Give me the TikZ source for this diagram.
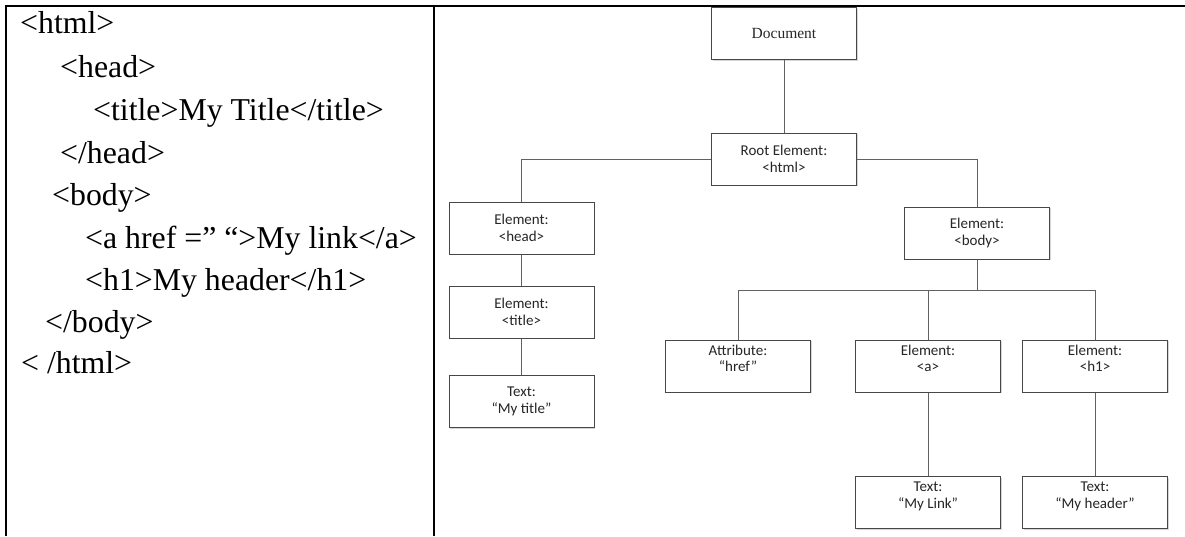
\documentclass[tikz,border=0pt]{standalone}
\usepackage{fontspec}
\setmainfont{Liberation Serif}
\newfontfamily\treefont{Carlito}
\usetikzlibrary{shadows}

\begin{document}
\begin{tikzpicture}[x=1pt,y=-1pt,
  frame/.style={line width=2.4pt,black},
  code/.style={anchor=base west,inner sep=0pt,font=\fontsize{31.8}{36}\selectfont},
  tbox/.style={draw=black!72,line width=1pt,fill=white,
    minimum width=145pt,minimum height=52pt,inner sep=0pt,align=center,
    font=\treefont\fontsize{15}{16.5}\selectfont,text=black!85,
    drop shadow={shadow xshift=1.4pt,shadow yshift=-1.4pt,fill=black!16,opacity=1}},
  lifted/.style={text depth=15pt},
  conn/.style={draw=black!62,line width=1pt}]
\useasboundingbox (0,0) rectangle (1185,536);

% page frame: top rule, left rule and column divider
\draw[frame] (4.8,6) -- (1185,6);
\draw[frame] (6,4.8) -- (6,536);
\draw[frame] (434,4.8) -- (434,536);

% HTML source in the left column
\node[code] (l1) at (20,33)  {<html>};
\node[code] (l2) at (60,77)  {<head>};
\node[code] (l3) at (93,120) {<title>My Title</title>};
\node[code] (l4) at (60,163) {</head>};
\node[code] (l5) at (52,205) {<body>};
\node[code] (l6) at (85,248) {<a href =” “>My link</a>};
\node[code] (l7) at (85,290) {<h1>My header</h1>};
\node[code] (l8) at (45,332) {</body>};
\node[code] (l9) at (21,373) {< /html>};

% DOM tree
\node[tbox,font=\fontsize{15.5}{17}\selectfont] (doc) at (784,33.5) {Document};
\node[tbox] (root)   at (784,159)   {Root Element:\\<html>};
\node[tbox] (head)   at (521.5,228) {Element:\\<head>};
\node[tbox] (title)  at (521.5,312) {Element:\\<title>};
\node[tbox] (ttitle) at (521.5,401.5) {Text:\\“My title”};
\node[tbox] (body)   at (977,233)   {Element:\\<body>};
\node[tbox,lifted] (attr)  at (738,366)   {Attribute:\\“href”};
\node[tbox,lifted] (ela)   at (928,366)   {Element:\\<a>};
\node[tbox,lifted] (elh)   at (1095,366)  {Element:\\<h1>};
\node[tbox,lifted] (tlink) at (928,502.5) {Text:\\“My Link”};
\node[tbox,lifted] (thead) at (1095,502.5) {Text:\\“My header”};
\coordinate (bus) at (977,290);

\draw[conn] (doc) -- (root);
\draw[conn] (root.west) -| (head.north);
\draw[conn] (root.east) -| (body.north);
\draw[conn] (head) -- (title);
\draw[conn] (title) -- (ttitle);
\draw[conn] (body.south) -- (bus);
\draw[conn] (bus) -| (attr.north);
\draw[conn] (bus) -| (ela.north);
\draw[conn] (bus) -| (elh.north);
\draw[conn] (ela) -- (tlink);
\draw[conn] (elh) -- (thead);
\end{tikzpicture}
\end{document}
